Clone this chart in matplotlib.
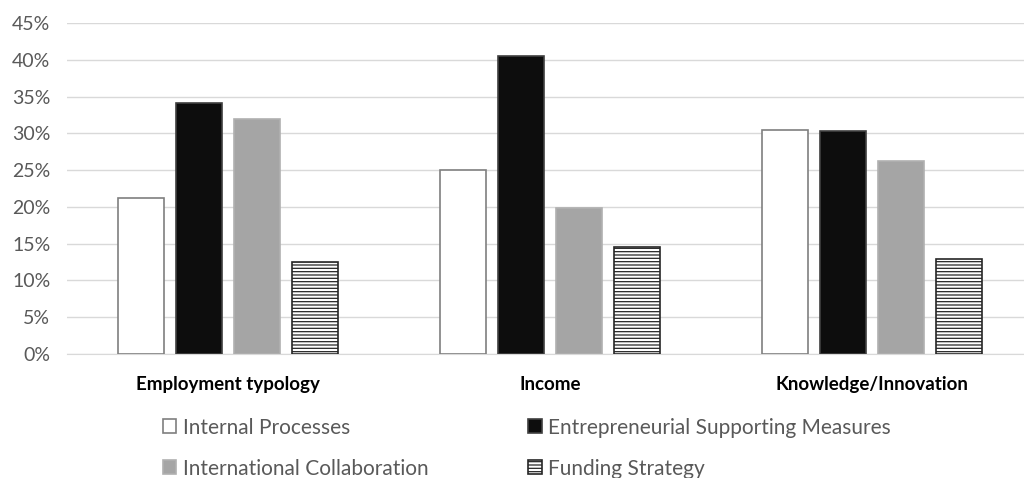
import numpy as np
import matplotlib.pyplot as plt
from matplotlib.ticker import PercentFormatter

plt.rcParams['font.family'] = ['Lato', 'DejaVu Sans']
plt.rcParams['hatch.linewidth'] = 0.9

categories = ["Employment typology", "Income", "Knowledge/Innovation"]
series = ["Internal Processes", "Entrepreneurial Supporting Measures",
          "International Collaboration", "Funding Strategy"]
internal = [21.2, 25.0, 30.4]
entrepreneurial = [34.1, 40.5, 30.3]
international = [32.0, 19.9, 26.3]
funding = [12.5, 14.5, 12.9]
yticks = [0, 5, 10, 15, 20, 25, 30, 35, 40, 45]

values = [internal, entrepreneurial, international, funding]
faces = ["white", "#0d0d0d", "#a5a5a5", "white"]
edges = ["#7f7f7f", "#404040", "#b0b0b0", "#262626"]
hatches = [None, None, None, "-----"]

fig = plt.figure(figsize=(10.24, 4.78), dpi=100)
ax = fig.add_axes([67 / 1024, 1 - 354 / 478, 1 - 67 / 1024, (354 - 23) / 478])

x = np.arange(len(categories))
step = 0.18
width = 0.143
for i, (vals, name) in enumerate(zip(values, series)):
    ax.bar(x + (i - 1.5) * step, vals, width, color=faces[i], edgecolor=edges[i],
           hatch=hatches[i], linewidth=1.2, label=name, zorder=3)

ax.set_xlim(-0.5, 2.5 - 9 / 322)
ax.set_ylim(0, 45)
ax.set_yticks(yticks)
ax.yaxis.set_major_formatter(PercentFormatter(decimals=0))
ax.grid(axis="y", color="#d9d9d9", linewidth=1, zorder=0)
for s in ["top", "right", "left"]:
    ax.spines[s].set_visible(False)
ax.spines["bottom"].set_color("#d9d9d9")
ax.tick_params(axis="y", length=0, labelsize=14, labelcolor="#595959", pad=12)
ax.tick_params(axis="x", length=0, pad=16)
ax.set_xticks(x)
ax.set_xticklabels(categories, fontsize=13.5, fontweight="bold", color="black")

handles, labels = ax.get_legend_handles_labels()
order = [0, 2, 1, 3]
leg = fig.legend([handles[k] for k in order], [labels[k] for k in order],
                 loc="upper left", bbox_to_anchor=(144 / 1024, 1 - 399 / 478),
                 ncol=2, frameon=False, fontsize=15, handlelength=0.65,
                 handleheight=0.65, handletextpad=0.3, columnspacing=4.8,
                 labelspacing=1.0)
for t in leg.get_texts():
    t.set_color("#595959")

fig.savefig("out.png", dpi=100)
